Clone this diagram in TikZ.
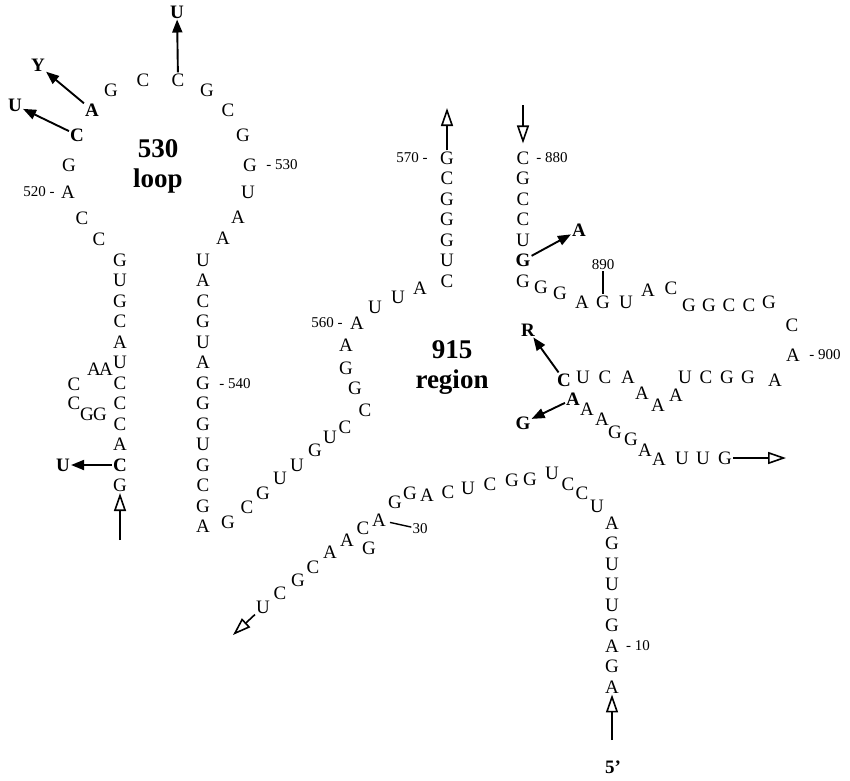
\documentclass[tikz,border=0pt]{standalone}
\usepackage{fontspec}
\setmainfont{Liberation Serif}
\usetikzlibrary{arrows.meta}
\tikzset{
  base/.style={font=\fontsize{19}{21}\selectfont, inner sep=1pt},
  bbase/.style={font=\fontsize{19}{21}\selectfont\bfseries, inner sep=1pt},
  num/.style={font=\fontsize{15}{17}\selectfont, inner sep=1pt},
  ttl/.style={font=\fontsize{27}{30}\selectfont\bfseries, align=center},
  hit/.style={draw, line width=1.9pt, -{Triangle[length=13pt,width=10pt]}},
  tail/.style={draw, line width=1.6pt, -{Triangle[open,length=18pt,width=12pt]}},
  tick/.style={draw, line width=1.4pt},
}
\begin{document}
\begin{tikzpicture}[x=1pt,y=-1pt]
  \useasboundingbox (0,0) rectangle (850,780);

  % 530 stem
  \foreach \b [count=\k from 0] in {G,U,G,C,A,U,C,C,C,A}
    \node[base] (s\k) at (120,{260+20.5*\k}) {\b};
  \node[bbase] (s10) at (120,465) {C};
  \node[base] (s11) at (120,485.5) {G};
  \foreach \b [count=\k from 0] in {U,A,C,G,U,A,G,G,G,U,G,C,G,A}
    \node[base] (r\k) at (203,{260+20.5*\k}) {\b};
  \foreach \x/\y/\b [count=\i] in {94/369/A,106/369/A,74/384/C,74/403/C,87/414/G,100/414/G}
    \node[base] (bu\i) at (\x,\y) {\b};

  % 530 loop
  \foreach \x/\y/\b [count=\i] in {99/239/C,82/218/C,68/192/A,69/165/G,111/90/G,143/80/C,
      207/90/G,228/110/C,243/135/G,250/165/G,248/192/U,238/217/A,223/238/A}
    \node[base] (lp\i) at (\x,\y) {\b};
  \node[bbase] (c522) at (77,135) {C};
  \node[bbase] (a523) at (92,110) {A};
  \node[base] (c525) at (178,80) {C};
  \node[ttl] (loop530) at (158,166) {530\\loop};

  % 915 region
  \foreach \b [count=\k from 0] in {G,C,G,G,G,U,C}
    \node[base] (m\k) at (447,{158+20.5*\k}) {\b};
  \foreach \b [count=\k from 0] in {C,G,C,C,U}
    \node[base] (n\k) at (523,{158+20.5*\k}) {\b};
  \node[bbase] (n5) at (523,260.5) {G};
  \node[base] (n6) at (523,281) {G};
  \foreach \x/\y/\b [count=\i] in {420/288/A,398/297/U,375/307/U,357/323/A,346/345/A,346/368/G,
      355/388/G,365/410/C,345/427/C,330/437/U,315/450/G,297/465/U,280/478/U,263/493/G,
      247/507/C,228/522/G}
    \node[base] (q\i) at (\x,\y) {\b};
  \foreach \x/\y/\b [count=\i] in {541/287/G,560/293/G,582/302/A,626/302/U,648/290/A,
      671/288/C,689/305/G,709/305/G,729/305/C,749/305/C,769/302/G,792/325/C,793/355/A,
      775/380/A,748/377/G,727/377/G,706/377/C,685/377/U,676/395/A,658/405/A,642/393/A,
      628/377/A,605/377/C,583/377/U,587/409/A,602/419/A,615/432/G,631/439/G,645/450/A,
      659/459/A,682/458/U,703/458/U}
    \node[base] (h\i) at (\x,\y) {\b};
  \node[base] (g890) at (603,302) {G};
  \node[bbase] (cR) at (564,380) {C};
  \node[bbase] (aG) at (573,399) {A};
  \node[base] (gEnd) at (725,458) {G};
  \node[ttl] (reg915) at (452,368) {915\\region};

  % 5' arm
  \foreach \x/\y/\b [count=\i] in {597/506/U,582/493/C,568/484/C,552/473/U,530/479/G,
      512/480/G,490/484/C,468/488/U,448/492/C,427/495/A,410/493/G,395/502/G,
      363/528/C,347/540/A,330/552/A,313/567/C,298/580/G,280/593/C,369/548/G}
    \node[base] (w\i) at (\x,\y) {\b};
  \node[base] (a30) at (379,520) {A};
  \node[base] (uEnd) at (263,607) {U};
  \foreach \b [count=\k from 0] in {A,G,U,U,U,G,A,G,A}
    \node[base] (v\k) at (612,{523+20.5*\k}) {\b};

  % numbering
  \node[num] (n520) at (39,192) {520 -};
  \node[num] (n530) at (282,165) {- 530};
  \node[num] (n540) at (235,384) {- 540};
  \node[num] (n560) at (327,323) {560 -};
  \node[num] (n570) at (412,158) {570 -};
  \node[num] (n880) at (552,158) {- 880};
  \node[num] (n890) at (603,265) {890};
  \node[num] (n900) at (825,355) {- 900};
  \node[num] (n30) at (420,529) {30};
  \node[num] (n10) at (638,646) {- 10};
  \node[bbase] (five) at (613,767) {5'};
  \draw[tick] (n890) -- (g890);
  \draw[tick,shorten <=3pt] (a30) -- (n30);

  % mutations
  \node[bbase] (u1) at (177,12) {U};
  \node[bbase] (y1) at (38,65) {Y};
  \node[bbase] (u2) at (15,105) {U};
  \node[bbase] (u3) at (63,465) {U};
  \node[bbase] (a889) at (579,230) {A};
  \node[bbase] (r1) at (528,330) {R};
  \node[bbase] (g1) at (523,423) {G};
  \draw[hit] (c525) -- (u1);
  \draw[hit] (a523) -- (y1);
  \draw[hit] (c522) -- (u2);
  \draw[hit] (s10) -- (u3);
  \draw[hit] (n5) -- (a889);
  \draw[hit] (cR) -- (r1);
  \draw[hit] (aG) -- (g1);

  % strand ends
  \coordinate (e1) at (120,540);
  \coordinate (e2) at (447,108);
  \coordinate (e3) at (523,105);
  \coordinate (e4) at (786,458);
  \coordinate (e5) at (233,635);
  \coordinate (e6) at (612,740);
  \draw[tail] (e1) -- (s11);
  \draw[tail] (m0) -- (e2);
  \draw[tail,shorten >=7pt] (e3) -- (n0);
  \draw[tail] (gEnd) -- (e4);
  \draw[tail] (uEnd) -- (e5);
  \draw[tail] (e6) -- (v8);
\end{tikzpicture}
\end{document}
